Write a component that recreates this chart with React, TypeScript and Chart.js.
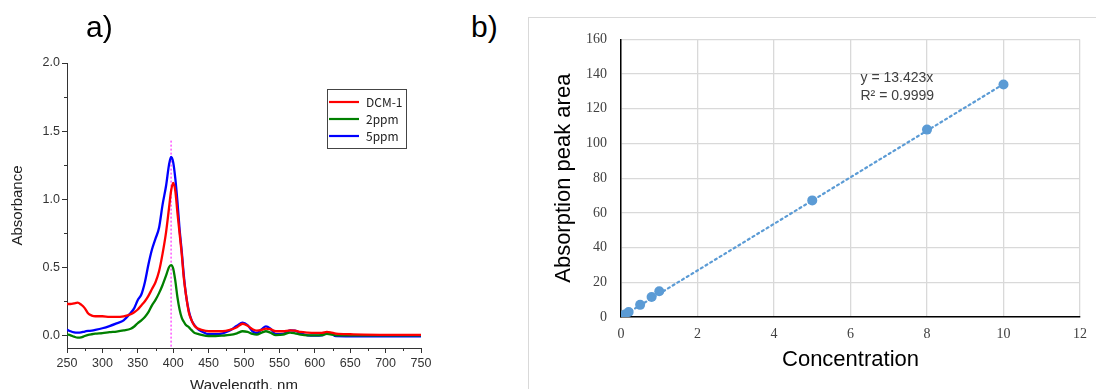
import React, { useEffect, useRef } from 'react';
import { Chart, registerables } from 'chart.js';

Chart.register(...registerables);

// ---------- Panel a) data ----------
const wavelengths = [
  250, 255, 260, 265, 270, 275, 280, 285, 290, 300, 310, 320, 330, 340, 345, 350, 355, 360, 365, 370,
  375, 380, 385, 390, 394, 397, 400, 403, 406, 409, 412, 415, 418, 422, 426, 430, 435, 440, 450, 460,
  470, 480, 490, 498, 505, 512, 518, 525, 531, 537, 545, 555, 565, 572, 580, 590, 600, 610, 617, 622,
  630, 650, 700, 750,
];
const dcm1 = [
  0.23, 0.23, 0.235, 0.24, 0.225, 0.2, 0.16, 0.145, 0.14, 0.14, 0.135, 0.135, 0.14, 0.155, 0.17, 0.19, 0.22, 0.25, 0.29, 0.34,
  0.39, 0.47, 0.6, 0.76, 0.93, 1.06, 1.12, 1.06, 0.9, 0.75, 0.6, 0.42, 0.3, 0.17, 0.11, 0.07, 0.05, 0.04, 0.03, 0.03,
  0.03, 0.04, 0.06, 0.085, 0.07, 0.045, 0.035, 0.04, 0.05, 0.045, 0.03, 0.03, 0.037, 0.035, 0.025, 0.02, 0.018, 0.018, 0.025, 0.022,
  0.012, 0.008, 0.004, 0.004,
];
const ppm2 = [
  0.007, 0.0, -0.01, -0.017, -0.015, -0.005, 0.003, 0.008, 0.012, 0.016, 0.023, 0.028, 0.036, 0.048, 0.065, 0.09, 0.11, 0.135, 0.17, 0.22,
  0.26, 0.31, 0.37, 0.44, 0.5, 0.515, 0.49, 0.4, 0.28, 0.19, 0.13, 0.1, 0.075, 0.06, 0.038, 0.018, 0.01, 0.003, -0.005, -0.005,
  -0.002, 0.003, 0.015, 0.03, 0.025, 0.01, 0.005, 0.02, 0.03, 0.02, 0.002, 0.005, 0.02, 0.015, 0.005, 0.0, 0.0, 0.002, 0.01, 0.008,
  0.0, 0.0, 0.0, 0.0,
];
const ppm5 = [
  0.042, 0.03, 0.022, 0.02, 0.022, 0.028, 0.032, 0.035, 0.04, 0.052, 0.068, 0.088, 0.11, 0.165, 0.2, 0.26, 0.3, 0.39, 0.52, 0.63,
  0.71, 0.79, 0.96, 1.1, 1.25, 1.31, 1.27, 1.15, 0.98, 0.78, 0.62, 0.44, 0.3, 0.18, 0.11, 0.075, 0.045, 0.03, 0.008, 0.008,
  0.015, 0.035, 0.07, 0.093, 0.075, 0.03, 0.017, 0.045, 0.066, 0.05, 0.008, 0.01, 0.037, 0.035, 0.015, 0.0, -0.002, 0.0, 0.02, 0.017,
  -0.006, -0.007, -0.007, -0.007,
];
const seriesLabels = ['DCM-1', '2ppm', '5ppm'];
const seriesColors = ['#ff0000', '#008000', '#0000ff'];
const markerX = [397, 397];
const markerY = [1.43, -0.093];
const absTicks = [0, 0.5, 1.0, 1.5, 2.0];
const absMinorTicks = [0.25, 0.75, 1.25, 1.75];
const wlTicks = [250, 300, 350, 400, 450, 500, 550, 600, 650, 700, 750];
const wlMinorTicks = [275, 325, 375, 425, 475, 525, 575, 625, 675, 725];

// ---------- Panel b) data ----------
const concentration = [0, 0.1, 0.2, 0.5, 0.8, 1, 5, 8, 10];
const peakArea = [0, 1.4, 2.9, 7, 11.5, 14.8, 67.2, 108, 134];
const trendX = [0, 10];
const trendY = [0, 134.23];
const concTicks = [0, 2, 4, 6, 8, 10, 12];
const areaTicks = [0, 20, 40, 60, 80, 100, 120, 140, 160];
const fitLabels = ['y = 13.423x', 'R² = 0.9999'];

const SANS = '"Liberation Sans", Arial, sans-serif';
const SERIF = '"Liberation Serif", "Times New Roman", serif';

const spectrumDecor = {
  id: 'spectrumDecor',
  afterDraw(chart: any) {
    const { ctx, chartArea } = chart;
    const xs = chart.scales.x;
    const ys = chart.scales.y;
    ctx.save();
    ctx.strokeStyle = '#333';
    ctx.lineWidth = 1;
    ctx.beginPath();
    for (const v of wlMinorTicks) {
      const px = Math.round(xs.getPixelForValue(v)) + 0.5;
      ctx.moveTo(px, chartArea.bottom);
      ctx.lineTo(px, chartArea.bottom + 3);
    }
    for (const v of absMinorTicks) {
      const py = Math.round(ys.getPixelForValue(v)) + 0.5;
      ctx.moveTo(chartArea.left, py);
      ctx.lineTo(chartArea.left - 3, py);
    }
    ctx.stroke();

    // legend box
    const bx = 327.5, by = 89.5, bw = 79, bh = 59;
    ctx.fillStyle = '#ffffff';
    ctx.fillRect(bx, by, bw, bh);
    ctx.strokeStyle = '#444';
    ctx.lineWidth = 1;
    ctx.strokeRect(bx, by, bw, bh);
    ctx.font = '12px "Noto Sans CJK JP", ' + SANS;
    ctx.textBaseline = 'middle';
    ctx.textAlign = 'left';
    for (let i = 0; i < 3; i++) {
      const ds = chart.data.datasets[i];
      const y = 102 + i * 17;
      ctx.strokeStyle = ds.borderColor;
      ctx.lineWidth = 2.2;
      ctx.beginPath();
      ctx.moveTo(329, y);
      ctx.lineTo(359, y);
      ctx.stroke();
      ctx.fillStyle = '#222';
      ctx.fillText(ds.label, 366, y);
    }
    ctx.restore();
  },
};

function SpectrumChart() {
  const ref = useRef<HTMLCanvasElement>(null);
  useEffect(() => {
    const canvas = ref.current;
    if (!canvas) return;
    const mk = (ys: number[]) => wavelengths.map((x, i) => ({ x, y: ys[i] }));
    const series = [dcm1, ppm2, ppm5];
    const chart = new Chart(canvas, {
      type: 'line',
      data: {
        datasets: [
          ...series.map((d, i) => ({
            label: seriesLabels[i],
            data: mk(d),
            borderColor: seriesColors[i],
            backgroundColor: seriesColors[i],
            borderWidth: 2.3,
            pointRadius: 0,
            cubicInterpolationMode: 'monotone' as const,
            fill: false,
          })),
          {
            label: 'marker',
            data: markerX.map((x, i) => ({ x, y: markerY[i] })),
            borderColor: '#ff00ff',
            borderWidth: 1,
            borderDash: [2, 2],
            pointRadius: 0,
            fill: false,
          },
        ],
      },
      options: {
        responsive: false,
        animation: false,
        events: [],
        layout: { padding: { top: 63, right: 19, left: 0, bottom: 0 } },
        plugins: { legend: { display: false }, tooltip: { enabled: false } },
        scales: {
          x: {
            type: 'linear',
            min: 250,
            max: 750,
            afterBuildTicks: (s: any) => {
              s.ticks = wlTicks.map((v) => ({ value: v }));
            },
            afterFit: (s: any) => {
              s.height = 52;
            },
            ticks: { font: { family: SANS, size: 12.5 }, color: '#333', padding: 3, maxRotation: 0, autoSkip: false },
            grid: { drawOnChartArea: false, drawTicks: true, tickLength: 5, color: '#333', tickColor: '#333' },
            border: { display: true, color: '#333', width: 1 },
            title: {
              display: true,
              text: 'Wavelength, nm',
              font: { family: SANS, size: 15 },
              color: '#222',
              padding: { top: 0, bottom: 5 },
            },
          },
          y: {
            type: 'linear',
            min: -0.093,
            max: 2.0,
            afterBuildTicks: (s: any) => {
              s.ticks = absTicks.map((v) => ({ value: v }));
            },
            afterFit: (s: any) => {
              s.width = 67;
            },
            ticks: {
              font: { family: SANS, size: 12.5 },
              color: '#333',
              padding: 2,
              autoSkip: false,
              callback: (v: any) => Number(v).toFixed(1),
            },
            grid: { drawOnChartArea: false, drawTicks: true, tickLength: 5, color: '#333', tickColor: '#333' },
            border: { display: true, color: '#333', width: 1 },
            title: {
              display: true,
              text: 'Absorbance',
              font: { family: SANS, size: 15 },
              color: '#222',
              padding: { top: 9, bottom: 0 },
            },
          },
        },
      },
      plugins: [spectrumDecor],
    } as any);
    return () => chart.destroy();
  }, []);
  return (
    <canvas
      ref={ref}
      width={440}
      height={400}
      style={{ position: 'absolute', left: 0, top: 0, width: 440, height: 400 }}
    />
  );
}

const fitDecor = {
  id: 'fitDecor',
  afterDatasetsDraw(chart: any) {
    const { ctx, chartArea } = chart;
    ctx.save();
    ctx.font = '14px ' + SANS;
    ctx.fillStyle = '#404040';
    ctx.textBaseline = 'middle';
    ctx.textAlign = 'left';
    fitLabels.forEach((t, i) => {
      ctx.fillText(t, chartArea.left + 239.5, chartArea.top + 38.5 + i * 18.5);
    });
    ctx.restore();
  },
};

function CalibrationChart() {
  const ref = useRef<HTMLCanvasElement>(null);
  useEffect(() => {
    const canvas = ref.current;
    if (!canvas) return;
    const chart = new Chart(canvas, {
      type: 'scatter',
      data: {
        datasets: [
          {
            label: 'Absorption peak area',
            data: concentration.map((x, i) => ({ x, y: peakArea[i] })),
            backgroundColor: '#5b9bd5',
            borderColor: '#5b9bd5',
            pointRadius: 5,
            pointBorderWidth: 0,
            showLine: false,
          },
          {
            label: 'Linear fit',
            data: trendX.map((x, i) => ({ x, y: trendY[i] })),
            borderColor: '#5b9bd5',
            borderWidth: 2.2,
            borderDash: [2, 3.5],
            borderCapStyle: 'round',
            pointRadius: 0,
            showLine: true,
            fill: false,
          },
        ],
      },
      options: {
        responsive: false,
        animation: false,
        events: [],
        layout: { padding: { top: 20, right: 15, left: 0, bottom: 0 } },
        plugins: { legend: { display: false }, tooltip: { enabled: false } },
        scales: {
          x: {
            type: 'linear',
            min: 0,
            max: 12,
            afterBuildTicks: (s: any) => {
              s.ticks = concTicks.map((v) => ({ value: v }));
            },
            afterFit: (s: any) => {
              s.height = 72;
            },
            ticks: { font: { family: SERIF, size: 14 }, color: '#404040', padding: 9, maxRotation: 0, autoSkip: false },
            grid: { color: '#d9d9d9', lineWidth: 1.3, drawTicks: false },
            border: { display: true, color: '#000', width: 1.5 },
            title: {
              display: true,
              text: 'Concentration',
              font: { family: SANS, size: 22 },
              color: '#000',
              padding: { top: 0, bottom: 16 },
            },
          },
          y: {
            type: 'linear',
            min: 0,
            max: 160,
            afterBuildTicks: (s: any) => {
              s.ticks = areaTicks.map((v) => ({ value: v }));
            },
            afterFit: (s: any) => {
              s.width = 93;
            },
            ticks: { font: { family: SERIF, size: 14 }, color: '#404040', padding: 14, autoSkip: false },
            grid: { color: '#d9d9d9', lineWidth: 1.3, drawTicks: false },
            border: { display: true, color: '#000', width: 1.5 },
            title: {
              display: true,
              text: 'Absorption peak area',
              font: { family: SANS, size: 22 },
              color: '#000',
              padding: { top: 23, bottom: 0 },
            },
          },
        },
      },
      plugins: [fitDecor],
    } as any);
    return () => chart.destroy();
  }, []);
  return (
    <canvas
      ref={ref}
      width={568}
      height={372}
      style={{ position: 'absolute', left: 528, top: 17, width: 568, height: 372 }}
    />
  );
}

const panelLabel: React.CSSProperties = {
  position: 'absolute',
  top: 12,
  fontFamily: SANS,
  fontSize: 30,
  lineHeight: '30px',
  color: '#000',
};

export default function App() {
  return (
    <div
      style={{
        position: 'absolute',
        left: 0,
        top: 0,
        width: 1096,
        height: 389,
        overflow: 'hidden',
        background: '#fff',
      }}
    >
      <SpectrumChart />
      <div
        style={{
          position: 'absolute',
          left: 528,
          top: 17,
          width: 600,
          height: 400,
          border: '1px solid #d9d9d9',
          boxSizing: 'border-box',
        }}
      />
      <CalibrationChart />
      <div style={{ ...panelLabel, left: 86 }}>a)</div>
      <div style={{ ...panelLabel, left: 471 }}>b)</div>
    </div>
  );
}
